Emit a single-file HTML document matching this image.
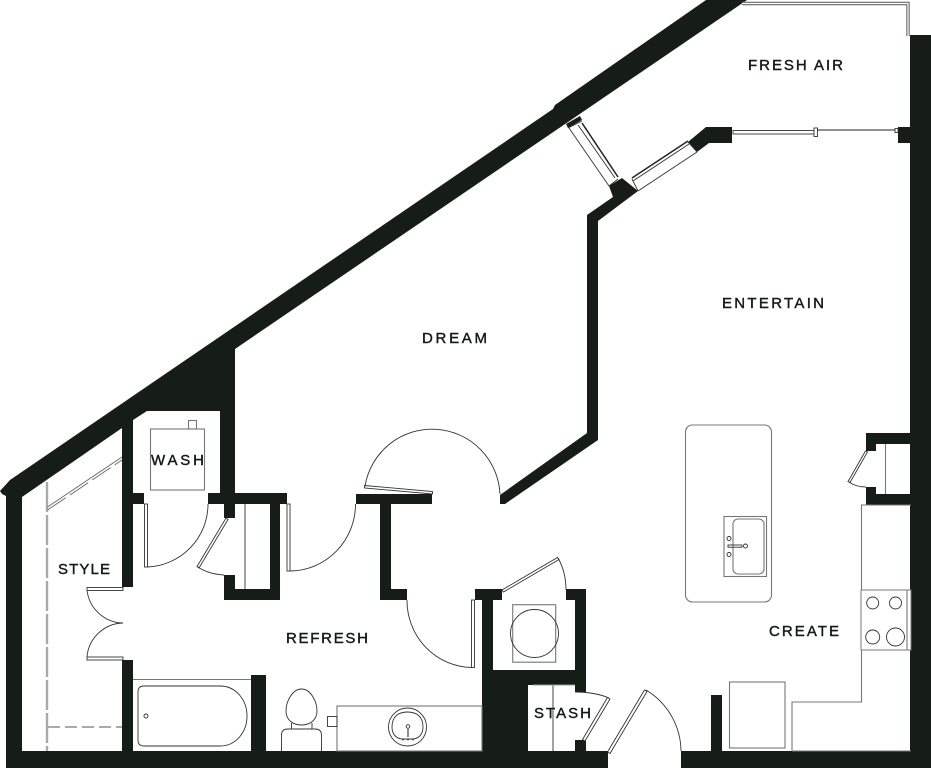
<!DOCTYPE html>
<html><head><meta charset="utf-8"><style>
html,body{margin:0;padding:0;background:#fff;width:931px;height:768px;overflow:hidden}
svg{display:block}
text{font-family:"Liberation Sans",sans-serif;font-size:15px;fill:#14181a;font-weight:400;stroke:#14181a;stroke-width:.4}
.w{fill:#161d18;stroke:none}
.t{fill:none;stroke:#333;stroke-width:.9}
.g{fill:none;stroke:#777;stroke-width:1.1}
.l{fill:#fff;stroke:#333;stroke-width:.9}
</style></head><body>
<svg width="931" height="768" viewBox="0 0 931 768" xmlns="http://www.w3.org/2000/svg">
<!-- walls -->
<g class="w">
<polygon points="706,0 747,0 235,349 235,504 224,504 224,518 235,518 235,504 287,504 287,493 220,493 220,411 147,411 133,420 133,493 144,493 144,504 133,504 133,587 122,587 122,428 22,497 22,751 122,751 122,660 133,660 133,751 251,751 251,675 266,675 266,751 482,751 482,600 475,600 475,589 502,589 502,600 493,600 493,670 575,670 575,600 566,600 566,589 586,589 586,692 575,692 575,685 528,685 528,751 575,751 575,740 586,740 586,751 608,751 608,768 6,768 6,496 2,494 0,491 10,480 553,109 555,105"/>
<rect x="208" y="493" width="79" height="11"/>
<rect x="224" y="504" width="11" height="14"/>
<polygon points="270,504 280,504 280,600 224,600 224,575 235,575 235,589 270,589"/>
<polygon points="356,494 432,494 432,504 391,504 391,589 407,589 407,600 380,600 380,504 356,504"/>
<polygon points="500,495 587,433 587,215 613,197 609,186 622,178 638,191 598,221 598,440 505,504 500,504"/>
<polygon points="688,142 706,127 732,127 732,143 709,143 697,152"/>
<polygon points="566,124 580,116 582,120 568,128"/>
<rect x="898" y="127" width="13" height="16"/>
<rect x="910" y="35" width="21" height="733"/>
<polygon points="681,751 931,751 931,768 681,768"/>
<rect x="711" y="695" width="11" height="57"/>
<polygon points="866,433 911,433 911,444 876,444 876,451 866,451"/>
<polygon points="866,487 876,487 876,494 911,494 911,505 866,505"/>
</g>
<!-- balcony rail -->
<polyline class="g" points="742,3.5 908,3.5 908,36" style="stroke-width:3.4;stroke:#666"/>
<polyline points="742,3.5 908,3.5 908,36" fill="none" stroke="#fff" stroke-width="1.2"/>
<!-- angled door/windows -->
<line x1="582" y1="123" x2="618" y2="177" stroke="#222" stroke-width="1.5"/>
<line class="t" x1="578" y1="125" x2="615" y2="178"/>
<line class="t" x1="569" y1="128" x2="609" y2="186"/>
<line class="t" x1="568" y1="128" x2="582" y2="121"/>
<line class="t" x1="609" y1="186" x2="618" y2="179"/>
<line x1="632" y1="178" x2="688" y2="141" stroke="#222" stroke-width="1.5"/>
<line class="t" x1="633" y1="181" x2="689" y2="144"/>
<line class="t" x1="638" y1="191" x2="697" y2="152"/>
<line class="t" x1="632" y1="179" x2="638" y2="191"/>
<line class="t" x1="688" y1="142" x2="697" y2="152"/>
<!-- slider -->
<rect class="l" x="733" y="130.500" width="81" height="3.500"/>
<rect class="l" x="814" y="128" width="3.500" height="8.500"/>
<line x1="817" y1="130" x2="895" y2="130" stroke="#222" stroke-width="1"/>
<rect class="l" x="895" y="128.500" width="3" height="4"/>
<!-- style dashed -->
<path d="M47 482V751" fill="none" stroke="#aaa" stroke-width="2.400" stroke-dasharray="30 3"/>
<path d="M48 727H122" fill="none" stroke="#aaa" stroke-width="2" stroke-dasharray="12 5"/>
<path d="M47.500 507L122 457" fill="none" stroke="#666" stroke-width=".9"/>
<path d="M47.500 510L122 460" fill="none" stroke="#666" stroke-width=".9" stroke-dasharray="22 5"/>
<!-- washer room -->
<rect class="g" x="150.500" y="429" width="54" height="61"/>
<rect class="g" x="188.500" y="420.500" width="8" height="8.500"/>
<!-- doors -->
<rect class="l" x="144.500" y="504" width="3" height="63"/>
<path class="t" d="M147 567A63 63 0 0 0 208 504"/>
<polygon class="l" points="226,518 228,519.500 199,568 197,566.500"/>
<path class="t" d="M198 567Q208 574 224 575"/>
<line class="t" x1="245" y1="504" x2="245" y2="589"/>
<rect class="l" x="87" y="587.500" width="36" height="3"/>
<rect class="l" x="87" y="657" width="36" height="3"/>
<path class="t" d="M87 590A37 37 0 0 0 123 623A37 37 0 0 0 87 657"/>
<rect class="l" x="287" y="504" width="3" height="67"/>
<path class="t" d="M290 571A66 67 0 0 0 355.500 504"/>
<polygon class="l" points="364.500,485.500 432.500,491.500 432.500,494 364.500,488"/>
<path class="t" d="M365 486A68 68 0 0 1 500 494"/>
<rect class="l" x="471.500" y="600" width="3" height="67.500"/>
<path class="t" d="M471.500 667.500A66 67 0 0 1 407 600"/>
<polygon class="l" points="502,590 557.500,557.500 559,559.500 503.500,592"/>
<path class="t" d="M558 558Q566 572 566 590"/>
<rect class="g" x="512.700" y="604.700" width="43" height="57.500"/>
<circle class="t" cx="534.500" cy="633.500" r="24"/>
<!-- stash -->
<path d="M553 685V751" fill="none" stroke="#999" stroke-width="1.800"/>
<path d="M533 685H575" fill="none" stroke="#999" stroke-width="1"/>
<path class="t" d="M575 692Q595 692 609 698"/>
<polygon class="l" points="607.500,697.500 610,699 585,741 582.500,739.500"/>
<polygon class="l" points="644.500,690 647,691.500 610,753.500 607.500,752"/>
<path class="t" d="M646 690A72 72 0 0 1 681 751"/>
<!-- bath -->
<line class="g" x1="133" y1="679.500" x2="251" y2="679.500"/>
<path class="t" d="M144 686H220C236 686 247 700 247 716C247 732 236 746 220 746H144Q138 746 138 740V692Q138 686 144 686Z"/>
<circle class="t" cx="146" cy="716" r="2"/>
<!-- wc -->
<path class="t" d="M301.500 689C311 689 317 702 317 711C317 720 310 725 301.500 725C293 725 286 720 286 711C286 702 292 689 301.500 689Z"/>
<path class="t" d="M291.500 723V729M312 723V729M281.500 751V735Q281.500 729 288 729H315Q321.500 729 321.500 735V751"/>
<rect class="g" x="337" y="706" width="145" height="45" />
<rect class="t" x="327.500" y="716.500" width="9.500" height="10"/>
<circle class="t" cx="407.500" cy="727" r="19"/>
<path class="t" d="M392 727C392 716 399 712 407.500 712C416 712 423 716 423 727C423 735 418 739 412 739H403C397 739 392 735 392 727Z"/>
<circle class="t" cx="408" cy="726.500" r="1.800"/>
<line x1="408" y1="729" x2="408" y2="737" stroke="#666" stroke-width="1.500"/>
<path d="M402 739.500H414" stroke="#444" stroke-width="1.500" stroke-dasharray="2 3"/>
<!-- island -->
<rect class="g" x="685.500" y="425" width="86" height="177" rx="7"/>
<rect class="g" x="724" y="516.500" width="42.500" height="60"/>
<rect class="g" x="733" y="519" width="31" height="55" rx="5"/>
<rect class="t" x="728" y="545" width="14" height="2.200"/>
<circle class="t" cx="745.500" cy="546" r="2"/>
<circle class="t" cx="729" cy="538.500" r="2"/>
<circle class="t" cx="729" cy="554.500" r="2"/>
<!-- kitchen -->
<polyline class="g" points="792,751 792,702 861.500,702 861.500,505 911,505"/>
<line class="g" x1="792" y1="751" x2="911" y2="751" />
<rect class="g" x="729.500" y="682" width="55.500" height="66"/>
<rect x="861" y="590" width="50" height="60" fill="#fff" stroke="#777" stroke-width="1"/>
<line class="g" x1="907" y1="590" x2="907" y2="650"/>
<circle class="t" cx="872.700" cy="603" r="6"/>
<circle class="t" cx="895.500" cy="603" r="6"/>
<circle class="t" cx="872.700" cy="637" r="7"/>
<circle class="t" cx="895.500" cy="637" r="9"/>
<!-- right closet -->
<line class="g" x1="885.500" y1="444" x2="885.500" y2="494"/>
<polygon class="l" points="865.500,451 867.500,452 850,482.500 848,481.500"/>
<path class="t" d="M849 482Q856 487 866 487"/>
<!-- labels -->
<text x="748" y="70" textLength="95" lengthAdjust="spacing">FRESH AIR</text>
<text x="722" y="308" textLength="102" lengthAdjust="spacing">ENTERTAIN</text>
<text x="422" y="343" textLength="65" lengthAdjust="spacing">DREAM</text>
<text x="151" y="465" textLength="53" lengthAdjust="spacing">WASH</text>
<text x="58" y="574" textLength="52" lengthAdjust="spacing">STYLE</text>
<text x="286" y="643" textLength="82" lengthAdjust="spacing">REFRESH</text>
<text x="769" y="636" textLength="70" lengthAdjust="spacing">CREATE</text>
<text x="534" y="718" textLength="57" lengthAdjust="spacing">STASH</text>
</svg>
</body></html>
